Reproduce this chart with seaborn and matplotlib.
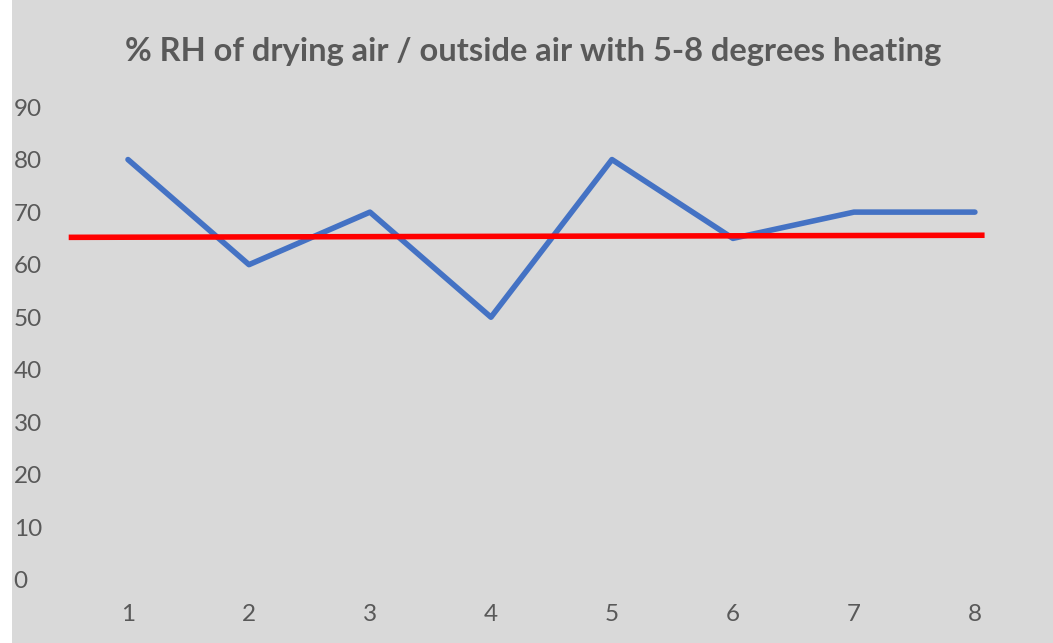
import matplotlib
matplotlib.use("Agg")
import matplotlib.pyplot as plt
import seaborn as sns
import pandas as pd
from matplotlib.patches import Rectangle

# data
days = [1, 2, 3, 4, 5, 6, 7, 8]
rh_values = [80, 60, 70, 50, 80, 65, 70, 70]
ref_x = [0.51, 8.08]
ref_y = [65.2, 65.6]
y_ticks = [0, 10, 20, 30, 40, 50, 60, 70, 80, 90]
title = "% RH of drying air / outside air with 5-8 degrees heating"

bg = "#d9d9d9"
txt = "#595959"

sns.set_theme(style="white")
plt.rcParams['font.family'] = ['Lato', 'DejaVu Sans']

fig = plt.figure(figsize=(10.53, 6.43), dpi=100)
fig.patch.set_facecolor("white")
fig.patches.append(Rectangle((12 / 1053, 0), 1 - 12 / 1053, 1, transform=fig.transFigure,
                             facecolor=bg, edgecolor="none", zorder=-10))

ax = fig.add_axes([55.4 / 1053, 63 / 643, 980 / 1053, 473 / 643])
ax.set_facecolor(bg)
ax.patch.set_alpha(0)

df = pd.DataFrame({"day": days, "rh": rh_values})
sns.lineplot(data=df, x="day", y="rh", ax=ax, color="#4472C4", linewidth=4,
             solid_capstyle="round", solid_joinstyle="round")
ax.plot(ref_x, ref_y, color="#FF0000", linewidth=4, solid_capstyle="butt")

ax.set_xlim(0.4, 8.5)
ax.set_ylim(0, 90)
ax.set_xticks(days)
ax.set_yticks(y_ticks)
ax.set_xlabel("")
ax.set_ylabel("")
for s in ax.spines.values():
    s.set_visible(False)
ax.grid(False)

ax.tick_params(axis="x", length=0, pad=17, labelsize=17.5, labelcolor=txt)
ax.tick_params(axis="y", length=0, pad=30, labelsize=17.5, labelcolor=txt)
for lab in ax.get_yticklabels():
    lab.set_horizontalalignment("left")

fig.text(533 / 1053, 1 - 51 / 643, title, ha="center", va="center",
         fontsize=23.5, fontweight="bold", color=txt)

fig.savefig("out.png", dpi=100)
